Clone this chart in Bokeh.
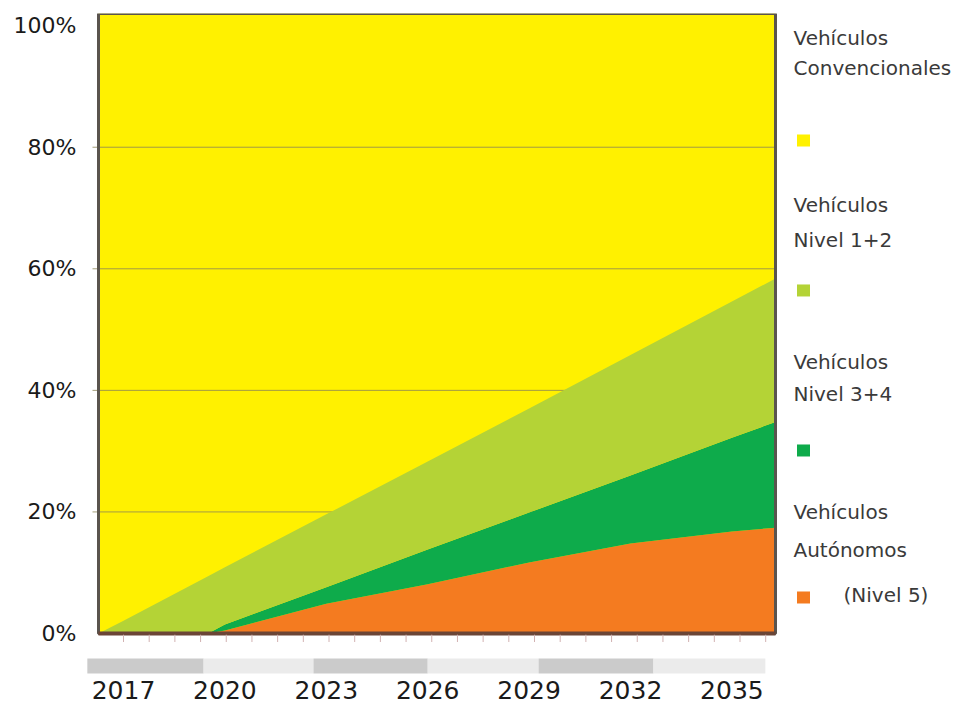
from bokeh.plotting import figure
from bokeh.models import Range1d, FixedTicker, PrintfTickFormatter, ColumnDataSource
from bokeh.core.properties import value
from bokeh.embed import file_html
from bokeh.resources import INLINE

# ---------------- data ----------------
years = [2016.26, 2017, 2019.5, 2020, 2023, 2026, 2029, 2032, 2035, 2036.29]
nivel5 = [0, 0, 0, 0.5, 4.9, 8.1, 11.7, 14.8, 16.8, 17.4]          # Autónomos (Nivel 5)
nivel34 = [0, 0, 0, 1.0, 2.7, 5.7, 8.2, 11.2, 15.4, 17.4]          # Nivel 3+4
nivel12 = [0, 2.1, 9.4, 9.4, 12.0, 14.5, 17.1, 19.8, 22.4, 23.6]   # Nivel 1+2
conv = [100, 97.9, 90.6, 89.1, 80.4, 71.7, 63.0, 54.2, 45.4, 41.6] # Convencionales

x_tick_labels = [2017, 2020, 2023, 2026, 2029, 2032, 2035]
y_ticks = [0, 20, 40, 60, 80, 100]
grid_vals = [20, 40, 60, 80]

colors = ["#fff100", "#b4d336", "#0eab4b", "#f47b20"]

# timeline band under the axis (alternating grey segments)
band_edges = [2015.93, 2019.37, 2022.62, 2026.0, 2029.28, 2032.68, 2035.99]
band_colors = ["#cbcbcb", "#ebebeb", "#cbcbcb", "#ebebeb", "#cbcbcb", "#ebebeb"]
minor_ticks = [2017 + 0.76 * k for k in range(26)]

FONT = "DejaVu Sans"

# ---------------- layout helpers (screen px -> data) ----------------
PX_PER_YEAR = 33.8
PX_PER_PCT = 6.078


def sx(px):
    return 2017 + (px - 123) / PX_PER_YEAR


def sy(py):
    return (633 - py) / PX_PER_PCT


W, H = 958, 710
x0, x1 = 2016.26, 2036.29
y_top = 102

p = figure(width=W, height=H,
           x_range=Range1d(sx(86), sx(W)), y_range=Range1d(sy(H), y_top),
           toolbar_location=None, output_backend="svg",
           min_border_left=86, min_border_right=0, min_border_top=13, min_border_bottom=0)
p.outline_line_color = None
p.xgrid.visible = False
p.ygrid.visible = False
p.xaxis.visible = False
p.background_fill_color = "white"
p.border_fill_color = "white"

# yellow plot background
bg = p.quad(left=[x0], right=[x1], bottom=[0], top=[y_top], fill_color=colors[0], line_color=None)
bg.level = "image"

src = ColumnDataSource(dict(year=years, n5=nivel5, n34=nivel34, n12=nivel12, conv=conv))
rs = p.varea_stack(["n5", "n34", "n12", "conv"], x="year",
                   color=[colors[3], colors[2], colors[1], colors[0]], source=src)
rs[3].level = "image"

# gridlines (under the coloured areas)
gl = p.segment(x0=[sx(92)] * len(grid_vals), y0=grid_vals, x1=[x1] * len(grid_vals), y1=grid_vals,
               line_color="#8c8456", line_width=1, line_alpha=0.8)
gl.level = "underlay"

# frame border
p.quad(left=[x0], right=[x1], bottom=[0], top=[y_top], fill_color=None,
       line_color="#5a544e", line_width=3)
p.segment(x0=[x0], y0=[0], x1=[x1], y1=[0], line_color="#6b4536", line_width=4)

# small ticks under the plot
p.segment(x0=minor_ticks, y0=[-0.2] * len(minor_ticks), x1=minor_ticks, y1=[-1.4] * len(minor_ticks),
          line_color="#d2b2b2", line_width=1)

# grey timeline band
p.quad(left=band_edges[:-1], right=band_edges[1:], bottom=sy(673), top=sy(658),
       fill_color=band_colors, line_color=None)

# x tick labels (years)
p.text(x=x_tick_labels, y=[sy(690)] * len(x_tick_labels), text=[str(v) for v in x_tick_labels],
       text_font=value(FONT), text_font_size="25px", text_color="#1a1a1a",
       text_align="center", text_baseline="middle")

# y axis
p.yaxis.ticker = FixedTicker(ticks=y_ticks)
p.yaxis.formatter = PrintfTickFormatter(format="%d%%")
p.yaxis.axis_line_color = None
p.yaxis.major_tick_line_color = None
p.yaxis.minor_tick_line_color = None
p.yaxis.major_label_standoff = 4
p.yaxis.major_label_text_font = FONT
p.yaxis.major_label_text_font_size = "22px"
p.yaxis.major_label_text_color = "#1a1a1a"

# ---------------- legend ----------------
leg_text = ["Vehículos", "Convencionales",
            "Vehículos", "Nivel 1+2",
            "Vehículos", "Nivel 3+4",
            "Vehículos", "Autónomos", "(Nivel 5)"]
leg_text_px = [793, 793, 793, 793, 793, 793, 793, 793, 843]
leg_text_py = [38, 68, 205, 240, 362, 394, 512, 550, 595]
leg_sq_px = [803, 803, 803, 803]
leg_sq_py = [140, 290, 450, 597]
leg_sq_color = [colors[0], colors[1], colors[2], colors[3]]

p.text(x=[sx(v) for v in leg_text_px], y=[sy(v) for v in leg_text_py], text=leg_text,
       text_font=value(FONT), text_font_size="20px", text_color="#3a3a3a",
       text_baseline="middle", text_align="left")
p.rect(x=[sx(v) for v in leg_sq_px], y=[sy(v) for v in leg_sq_py], width=13, height=12,
       width_units="screen", height_units="screen", fill_color=leg_sq_color, line_color=None)

open("out.html", "w").write(file_html(p, INLINE))
